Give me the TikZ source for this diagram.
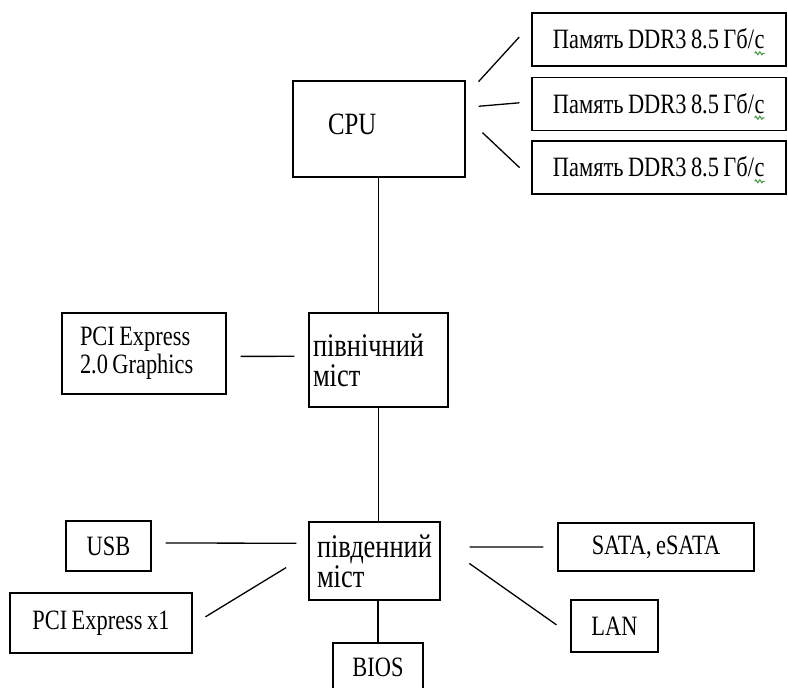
\documentclass[tikz,border=0pt]{standalone}
\usepackage{fontspec}
\usetikzlibrary{decorations.pathmorphing}
\setmainfont{Liberation Serif}[FakeStretch=0.8,WordSpace=0.8]
\definecolor{spellgreen}{RGB}{70,150,70}
\newcommand\spellmark[1]{\tikz[baseline=(w.base)]{\node[draw=none,inner sep=0pt,outer sep=0pt,minimum width=0pt,minimum height=0pt,text height={},text depth={}] (w) {#1};
  \draw[spellgreen,line width=1pt,decorate,decoration={snake,amplitude=1.5pt,segment length=4pt}] ([yshift=-4.5pt]w.base west) -- ([yshift=-4.5pt]w.base east);}}
\tikzset{box/.style={draw,line width=1.4pt,inner sep=0pt,font=\fontsize{28}{28}\selectfont},
  membox/.style={box,minimum width=254pt,minimum height=53pt,text height=25pt},
  bridge/.style={box,align=flush left,font=\fontsize{33}{30}\selectfont},
  link/.style={line width=1.3pt}
}

\begin{document}
\begin{tikzpicture}[x=1pt,y=-1pt]
  \useasboundingbox (0,0) rectangle (788,688);
  \clip (0,0) rectangle (788,688);

    % Processor and memory
    \node[box, minimum width=172pt, minimum height=96pt, inner xsep=35pt, text width=102pt, align=flush left, text depth=10pt, font=\fontsize{31}{31}\selectfont] (cpu) at (379,129) {CPU};
    \node[membox] (m1) at (659,39.5) {Память DDR3 8.5 Гб/\spellmark{с}};
    \node[membox] (m2) at (659,104) {Память DDR3 8.5 Гб/\spellmark{с}};
    \node[membox] (m3) at (659,167.5) {Память DDR3 8.5 Гб/\spellmark{с}};

    % North bridge
    \node[bridge, minimum width=139pt, minimum height=94pt, inner xsep=4pt, text width=131pt] (nb) at (378.5,360) {північний\\міст};
    \node[box, minimum width=164pt, minimum height=81pt, inner xsep=18pt, text width=128pt, align=flush left] (pcig) at (144,353.5) {PCI Express\\2.0 Graphics};

    % South bridge and devices
    \node[bridge, minimum width=131pt, minimum height=78pt, inner xsep=8pt, text width=115pt] (sb) at (374.5,561) {південний\\міст};
    \node[box, minimum width=85pt, minimum height=50pt] (usb) at (108.5,546) {USB};
    \node[box, minimum width=182pt, minimum height=60pt] (pcix) at (101,623) {PCI Express x1};
    \node[box, minimum width=196pt, minimum height=48pt] (sata) at (656,547) {SATA, eSATA};
    \node[box, minimum width=87pt, minimum height=52pt] (lan) at (614.5,626) {LAN};
    \node[box, minimum width=90pt, minimum height=48pt] (bios) at (378,667) {BIOS};

    % CPU to memory
    \draw[link, shorten <=19pt, shorten >=18pt] (cpu.21) -- (m1.173);
    \draw[link, shorten <=13pt, shorten >=12pt] (cpu.14) -- (m2.179);
    \draw[link, shorten <=23pt, shorten >=16pt] (cpu.8) -- (m3.185);

    % Bus between the bridges
    \draw[link] (nb.north) -- (nb.north |- cpu.south);
    \draw[link, shorten <=14pt, shorten >=14pt] (pcig.-2) -- (nb.177);
    \draw[link] (nb.south) -- (nb.south |- sb.north);

    % South bridge to devices
    \draw[link, shorten <=14pt, shorten >=12pt] (usb.4) -- (sb.165);
    \draw[link, shorten <=15pt, shorten >=26pt] (pcix.-1) -- (sb.174);
    \draw[link, shorten <=29pt, shorten >=14pt] (sb.12) -- (sata.180);
    \draw[link, shorten <=35pt, shorten >=17pt] (sb.15) -- (lan.-169);
    \draw[link] (bios.north) -- (bios.north |- sb.south);

  \end{tikzpicture}
\end{document}
